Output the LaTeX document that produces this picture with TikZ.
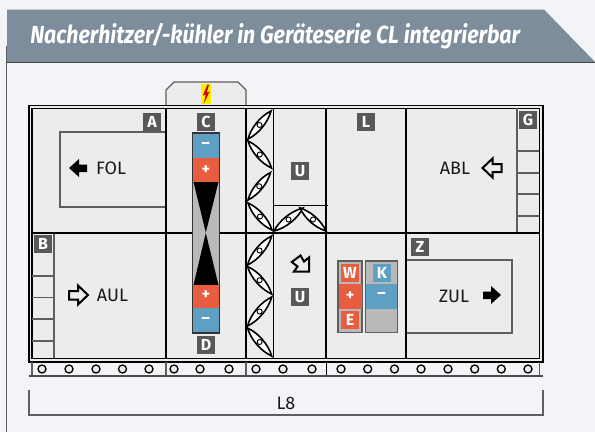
\documentclass[tikz,border=0pt]{standalone}
\usepackage{fontspec}
\usepackage{graphicx}
\setmainfont{Fira Sans}
\definecolor{bgc}{HTML}{F2F4F7}
\definecolor{headc}{HTML}{7D8D9B}
\definecolor{unitc}{HTML}{ECECEC}
\definecolor{tagc}{HTML}{58585A}
\definecolor{coolc}{HTML}{5F9FC4}
\definecolor{heatc}{HTML}{E85D40}
\definecolor{greyc}{HTML}{B9B9B9}
\definecolor{linec}{HTML}{5E5E5E}
\tikzset{
  tag/.style={fill=tagc,text=white,minimum size=13.5pt,inner sep=0pt,font=\fontsize{12}{12}\selectfont\bfseries},
  tagheat/.style={tag,fill=heatc},
  tagcool/.style={tag,fill=coolc},
  sign/.style={text=white,inner sep=0pt,font=\fontsize{12}{12}\selectfont\bfseries},
  airlabel/.style={inner sep=0pt,text=black!90,font=\fontsize{13.5}{13.5}\selectfont},
  heavy/.style={draw=black,line width=1.4pt},
  thin line/.style={draw=black,line width=0.7pt},
  grey line/.style={draw=linec,line width=0.9pt},
  hole/.style={circle,draw=black,line width=1pt,fill=unitc,minimum size=6pt,inner sep=0pt},
  bladeshape/.style={draw=black,line width=1.2pt,fill=white},
  pivot/.style={circle,draw=black,line width=0.7pt,fill=white,minimum size=3.8pt,inner sep=0pt},
}
\newcommand{\blade}[4]{%
  \draw[bladeshape] (#1,#2) .. controls ({#1+0.3*(#3-#1)+0.135*(#4-#2)},{#2+0.3*(#4-#2)-0.135*(#3-#1)}) and ({#1+0.7*(#3-#1)+0.135*(#4-#2)},{#2+0.7*(#4-#2)-0.135*(#3-#1)}) .. (#3,#4)
    .. controls ({#1+0.7*(#3-#1)-0.135*(#4-#2)},{#2+0.7*(#4-#2)+0.135*(#3-#1)}) and ({#1+0.3*(#3-#1)-0.135*(#4-#2)},{#2+0.3*(#4-#2)+0.135*(#3-#1)}) .. cycle;
  \node[pivot] at ({(#1+#3)/2},{(#2+#4)/2}) {};
}
\begin{document}
\begin{tikzpicture}[x=0.75pt,y=-0.75pt]
\useasboundingbox (0,0) rectangle (595,432);
\fill[bgc] (0,0) rectangle (595,432);
% frame and header
\draw[draw=linec,line width=0.9pt] (6.5,46) -- (6.5,432);
\fill[headc] (7,9.5) -- (544,9.5) -- (595,62) -- (7,62) -- cycle;
\draw[draw=black!20,line width=0.6pt] (7,9.5) -- (544,9.5);
\draw[draw=black!75,line width=0.8pt] (6,62.3) -- (595,62.3);
\node[anchor=west,inner sep=0pt,text=white] (title) at (30,36.5) {\scalebox{0.866}[1]{\fontsize{18.5}{18.5}\selectfont\bfseries\itshape Nacherhitzer/-kühler in Geräteserie CL integrierbar}};
% roof
\draw[grey line,fill=unitc] (166,105) -- (166,90) -- (174,82) -- (238,82) -- (246,90) -- (246,105);
\fill[yellow!95!orange] (201,84) rectangle (211,104);
\fill[red!85!black] (207.5,84.5) -- (202.8,95.5) -- (205.6,94.8) -- (203.8,103.8) -- (209.6,91.6) -- (206.6,92.6) -- (209.2,84.5) -- cycle;
% body
\fill[unitc] (28.5,105) rectangle (543,362);
\draw[draw=black,line width=0.9pt] (29,105.2) -- (543,105.2) -- (543,362) -- (29,362) -- cycle;
\draw[draw=black,line width=1pt] (32,108.2) rectangle (539.5,358.6);
% inner boxes
\draw[grey line] (166,132) -- (60,132) -- (60,207) -- (166,207);
\draw[grey line] (406,260) -- (512,260) -- (512,333) -- (406,333);
% grids
\draw[grey line] (54,233) -- (54,358);
\foreach \yy in {276,297.7,319,341} \draw[grey line] (32,\yy) -- (54,\yy);
\draw[grey line] (517,108) -- (517,233);
\foreach \yy in {151,173,194,216} \draw[grey line] (517,\yy) -- (539,\yy);
% partition lines
\draw[heavy] (32,232.7) -- (539.5,232.7);
\foreach \xx in {166,246,326,406} \draw[heavy] (\xx,108) -- (\xx,358.6);
\draw[thin line] (273.5,108) -- (273.5,358.6);
\draw[thin line] (273.5,205.3) -- (328,205.3);
% coil
\fill[greyc] (192.5,133) rectangle (219.5,333);
\fill[coolc] (193,134) rectangle (219,158);
\fill[heatc] (193,158) rectangle (219,182);
\fill[black] (193.5,182) -- (218.5,182) -- (205.8,232.5) -- cycle;
\fill[black] (193.5,285) -- (218.5,285) -- (205.8,233) -- cycle;
\fill[heatc] (193,285) rectangle (219,308);
\fill[coolc] (193,308) rectangle (219,333);
\draw[draw=black!80,line width=0.9pt] (192.5,133) rectangle (219.5,333);
\node[sign] (cminus) at (205.8,146) {–};
\node[sign] (cplus) at (205.8,170.5) {+};
\node[sign] (dplus) at (205.8,295) {+};
\node[sign] (dminus) at (205.8,320.5) {–};
% heater and cooler
\draw[draw=linec,line width=0.9pt,fill=greyc] (338,261) rectangle (362,332.5);
\fill[heatc] (338.5,284) rectangle (361.5,309);
\draw[draw=linec,line width=0.9pt,fill=greyc] (365.5,261) rectangle (397.5,332.5);
\fill[coolc] (366,284) rectangle (397,309);
\node[sign] (wplus) at (350,296) {+};
\node[sign] (kminus) at (381.5,295.5) {–};
% dampers
\blade{248}{139}{271}{111}
\blade{248}{141}{271.5}{168}
\blade{248}{200}{270.5}{172.5}
\blade{248}{203}{272}{230}
\blade{274}{231}{303}{208}
\blade{300}{208}{326}{231}
\blade{247.5}{265}{271.7}{236}
\blade{247.5}{266.5}{271.7}{294}
\blade{247.5}{326}{271.7}{297}
\blade{247.5}{328}{271.7}{356}
% air arrows
\fill[black] (69,168) -- (79,159) -- (79,164.5) -- (87,164.5) -- (87,172) -- (79,172) -- (79,177) -- cycle;
\fill[black] (501,295) -- (491,286) -- (491,291.5) -- (483,291.5) -- (483,299) -- (491,299) -- (491,304) -- cycle;
\draw[black,line width=1.5pt] (88,295) -- (78,285.5) -- (78,291) -- (69,291) -- (69,299.5) -- (78,299.5) -- (78,304.5) -- cycle;
\draw[black,line width=1.5pt] (482.5,168) -- (492.5,158.5) -- (492.5,164) -- (501.5,164) -- (501.5,172) -- (492.5,172) -- (492.5,177.5) -- cycle;
\draw[black,line width=1.5pt] (309,271.5) -- (309,257.5) -- (304,261.5) -- (300.5,255.5) -- (291.8,262) -- (297.5,266.5) -- (294,271.5) -- cycle;
% rail
\draw[grey line] (32,362) -- (32,376);
\foreach \xx in {166,246} \draw[grey line] (\xx,362) -- (\xx,376);
\draw[thin line] (326.5,362) -- (326.5,376);
\draw[grey line,line width=1.2pt] (539.5,362) -- (539.5,376);
\draw[draw=black!70,line width=0.8pt] (29,376) -- (543,376);
\foreach \xx in {42,69,96,122.5,149,174,200,229,256,283,312,341,367.7,394.5,421,448,474.7,501.3,528}
  \node[hole] at (\xx,369) {};
% dimension
\draw[grey line] (29,390) -- (29,415) -- (543,415) -- (543,390);
% tags
\node[tag] (A) at (152,122) {A};
\node[tag] (C) at (206,122) {C};
\node[tag] (L) at (366,122) {L};
\node[tag] (G) at (528,120) {G};
\node[tag] (B) at (43,243.5) {B};
\node[tag] (D) at (206,345) {D};
\node[tag] (Z) at (420,247) {Z};
\node[tag] (U1) at (300,171) {U};
\node[tag] (U2) at (300,297) {U};
\node[tagheat] (W) at (350,273) {W};
\node[tagheat] (E) at (350,320) {E};
\node[tagcool] (K) at (382,273) {K};
% air labels
\node[airlabel] (FOL) at (111,168) {FOL};
\node[airlabel] (AUL) at (112.5,295) {AUL};
\node[airlabel] (ABL) at (455,168) {ABL};
\node[airlabel] (ZUL) at (454,296) {ZUL};
\node[airlabel] (L8) at (286,403) {L8};
\end{tikzpicture}
\end{document}
